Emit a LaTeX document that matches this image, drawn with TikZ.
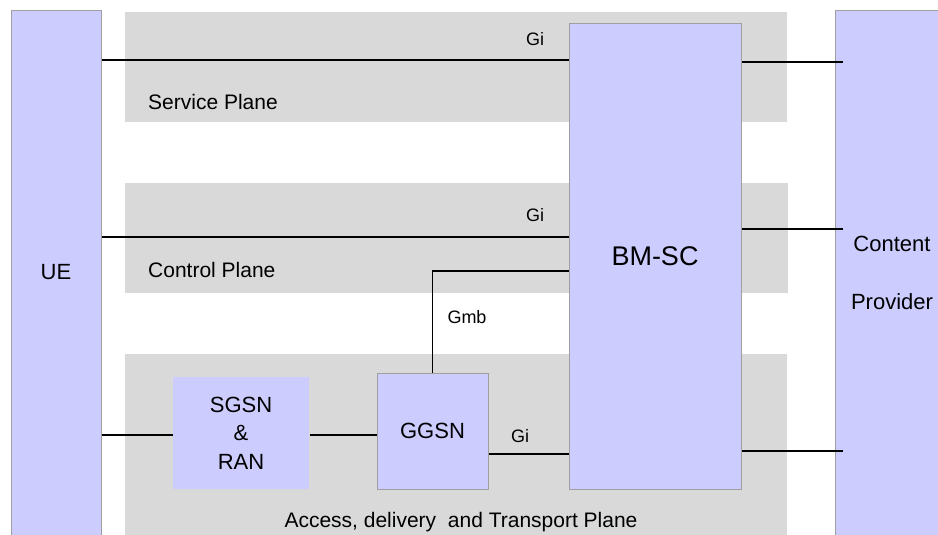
\documentclass[tikz,border=0pt]{standalone}
\usepackage{fontspec}
\setmainfont{Liberation Sans}
\definecolor{boxfill}{HTML}{CCCCFF}
\definecolor{boxline}{HTML}{9F9F9F}
\definecolor{planefill}{HTML}{D9D9D9}

\begin{document}
\begin{tikzpicture}[x=1pt, y=-1pt,
        entity/.style={draw=boxline, fill=boxfill, line width=1pt, inner sep=0pt, align=center, font=\fontsize{22}{28.5}\selectfont},
        bigtxt/.style={inner sep=0pt, align=center, font=\fontsize{22}{28.5}\selectfont},
        plane/.style={fill=planefill, inner sep=0pt, anchor=north west},
        lbl/.style={inner sep=0pt, font=\fontsize{18}{20}\selectfont},
        planelbl/.style={inner sep=0pt, font=\fontsize{21}{24}\selectfont},
        link/.style={line width=1.2pt}]

        \useasboundingbox (0,0) rectangle (938,535);
        \clip (0,0) rectangle (938,535);

        % Planos
        \node[plane, minimum width=662pt, minimum height=110pt] (service) at (125,12) {};
        \node[plane, minimum width=663pt, minimum height=110pt] (control) at (125,183) {};
        \node[plane, minimum width=662pt, minimum height=190pt] (access) at (125,354) {};

        \node[planelbl, anchor=west] (servicelbl) at (148,102) {Service Plane};
        \node[planelbl, anchor=west] (controllbl) at (148,270) {Control Plane};
        \node[planelbl] (accesslbl) at (461,522) {Access, delivery\ \ and Transport Plane};

        % Entidades (UE e Content Provider continuam abaixo da margem)
        \node[entity, minimum width=90pt, minimum height=550pt, anchor=north] (ue) at (56,10) {};
        \node[bigtxt] (uetxt) at ([yshift=13pt]ue.center) {UE};
        \node[entity, minimum width=114pt, minimum height=550pt, anchor=north] (cp) at (892,10) {};
        \node[bigtxt] (cptxt) at ([yshift=13pt]cp.center) {Content\\[29.5pt]Provider};
        \node[entity, minimum width=172pt, minimum height=465pt, font=\fontsize{27}{32}\selectfont] (bmsc) at (655,256.5) {BM-SC};
        \node[entity, minimum width=111pt, minimum height=116pt] (ggsn) at (432.5,431) {GGSN};
        \node[entity, draw=none, minimum width=136pt, minimum height=112pt] (sgsn) at (241,433) {SGSN\\\&\\RAN};

        % Alturas das ligacoes
        \coordinate (ys) at (0,60);
        \coordinate (yc) at (0,237);
        \coordinate (ygmb) at (0,271);
        \coordinate (yr) at (0,435);
        \coordinate (yg) at (0,454);
        \coordinate (cp1) at (0,62);
        \coordinate (cp2) at (0,229);
        \coordinate (cp3) at (0,451);

        % Ligacoes
        \draw[link] (ue.east |- ys) -- (bmsc.west |- ys);
        \draw[link] (ue.east |- yc) -- (bmsc.west |- yc);
        \draw[link] (bmsc.west |- ygmb) -| (ggsn.north);
        \draw[link] (ue.east |- yr) -- (sgsn.west |- yr);
        \draw[link] (sgsn.east |- yr) -- (ggsn.west |- yr);
        \draw[link] (ggsn.east |- yg) -- (bmsc.west |- yg);
        \draw[link] (bmsc.east |- cp1) -- ([xshift=8pt]cp.west |- cp1);
        \draw[link] (bmsc.east |- cp2) -- ([xshift=8pt]cp.west |- cp2);
        \draw[link] (bmsc.east |- cp3) -- ([xshift=8pt]cp.west |- cp3);

        % Rotulos
        \node[lbl] (gi1) at (535,39) {Gi};
        \node[lbl] (gi2) at (535,215) {Gi};
        \node[lbl] (gi3) at (520,436) {Gi};
        \node[lbl] (gmb) at (467,317) {Gmb};

\end{tikzpicture}
\end{document}
